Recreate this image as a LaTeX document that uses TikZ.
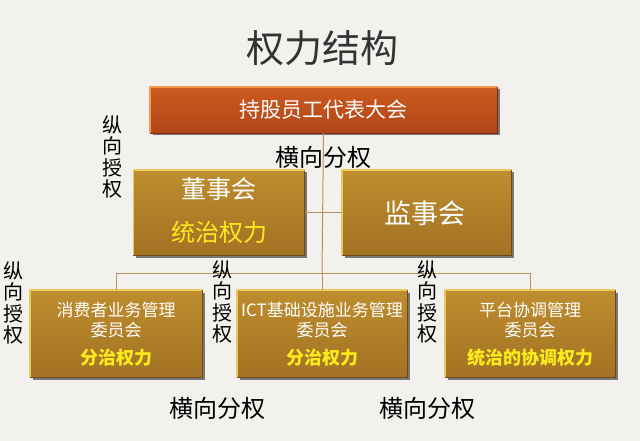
\documentclass[tikz,border=0pt]{standalone}
\usepackage{fontspec}
\setmainfont{Noto Sans CJK SC}
\usetikzlibrary{shadows}
\definecolor{bg}{HTML}{F2F1ED}
\definecolor{gtop}{HTML}{BE8D2E}
\definecolor{gbot}{HTML}{A37224}
\definecolor{ghi}{HTML}{EBC85A}
\definecolor{glo}{HTML}{6E4A14}
\definecolor{rtop}{HTML}{CC5A1E}
\definecolor{rbot}{HTML}{B2461A}
\definecolor{rhi}{HTML}{F29A50}
\definecolor{rlo}{HTML}{7A2A0C}
\definecolor{lcol}{HTML}{B8925A}
\definecolor{yel}{HTML}{FCEB1C}
\definecolor{titlec}{HTML}{333333}
\tikzset{
  goldbox/.style={draw=none, top color=gtop, bottom color=gbot,
    inner sep=0pt, drop shadow={shadow xshift=2.5pt, shadow yshift=-2.5pt, opacity=0.5, fill=black}},
  redbox/.style={draw=none, top color=rtop, bottom color=rbot,
    inner sep=0pt, drop shadow={shadow xshift=2.5pt, shadow yshift=-2.5pt, opacity=0.5, fill=black}},
  ghilite/.style={draw=ghi, line width=1.6pt},
  glowlite/.style={draw=glo, line width=1.2pt},
  rhilite/.style={draw=rhi, line width=1.6pt},
  rlowlite/.style={draw=rlo, line width=1.2pt},
  conn/.style={draw=lcol, line width=1pt},
  vlabel/.style={align=center, inner sep=0pt, text=black, font=\fontsize{20}{21.5}\selectfont},
  hlabel/.style={inner sep=0pt, text=black, font=\fontsize{24}{26}\selectfont},
  wtext/.style={inner sep=0pt, align=center, text=white},
  ytext/.style={inner sep=0pt, align=center, text=yel},
}
\begin{document}
\begin{tikzpicture}[x=1pt,y=-1pt]
\fill[bg] (0,0) rectangle (640,441);
\useasboundingbox (0,0) rectangle (640,441);

% title
\node[inner sep=0pt, text=titlec, font=\fontsize{38}{40}\selectfont] (title) at (322,48) {权力结构};

% boxes
\node[redbox, minimum width=347pt, minimum height=46pt] (top) at (323.5,110) {};
\node[goldbox, minimum width=171pt, minimum height=85pt] (dong) at (219,212.5) {};
\node[goldbox, minimum width=169pt, minimum height=85pt] (jian) at (426.5,212.5) {};
\node[goldbox, minimum width=172pt, minimum height=87pt] (b1) at (116,333.5) {};
\node[goldbox, minimum width=170pt, minimum height=87pt] (b2) at (322,333.5) {};
\node[goldbox, minimum width=170pt, minimum height=87pt] (b3) at (530,333.5) {};

% bevel edges
\draw[rlowlite] (top.north east) -- (top.south east) -- (top.south west);
\draw[rhilite] (top.south west) -- (top.north west) -- (top.north east);
\foreach \b in {dong,jian,b1,b2,b3}{
  \draw[glowlite] (\b.north east) -- (\b.south east) -- (\b.south west);
  \draw[ghilite] (\b.south west) -- (\b.north west) -- (\b.north east);
}

% connectors
\coordinate (hub) at (322,273.5);
\draw[conn] (dong.east) -- (jian.west);
\draw[conn] (top.south) -- (hub);
\draw[conn] (b1.north) |- (hub);
\draw[conn] (b3.north) |- (hub);
\draw[conn] (b2.north) -- (hub);

% box texts
\node[wtext, font=\fontsize{21}{23}\selectfont] (toptxt) at (top.center) {持股员工代表大会};
\node[wtext, font=\fontsize{25}{27}\selectfont] (dongtxt) at (219,189) {董事会};
\node[ytext, font=\fontsize{24}{26}\selectfont] (dongy) at (219,232) {统治权力};
\node[wtext, font=\fontsize{27}{29}\selectfont] (jiantxt) at (425,213) {监事会};

\node[wtext, font=\fontsize{17}{20}\selectfont] (b1txt) at (116,320) {消费者业务管理\\委员会};
\node[ytext, font=\fontsize{18}{20}\bfseries] (b1y) at (116,358) {分治权力};
\node[wtext, font=\fontsize{17}{20}\selectfont] (b2txt) at (322,320) {ICT基础设施业务管理\\委员会};
\node[ytext, font=\fontsize{18}{20}\bfseries] (b2y) at (322,358) {分治权力};
\node[wtext, font=\fontsize{17}{20}\selectfont] (b3txt) at (530,320) {平台协调管理\\委员会};
\node[ytext, font=\fontsize{18}{20}\bfseries] (b3y) at (530,358) {统治的协调权力};

% labels
\node[vlabel] (v0) at (112,157) {纵\\向\\授\\权};
\node[vlabel] (v1) at (14,303) {纵\\向\\授\\权};
\node[vlabel] (v2) at (222,302) {纵\\向\\授\\权};
\node[vlabel] (v3) at (427,302) {纵\\向\\授\\权};
\node[hlabel] (h0) at (323,157) {横向分权};
\node[hlabel] (h1) at (217,408) {横向分权};
\node[hlabel] (h2) at (427,408) {横向分权};
\end{tikzpicture}
\end{document}
